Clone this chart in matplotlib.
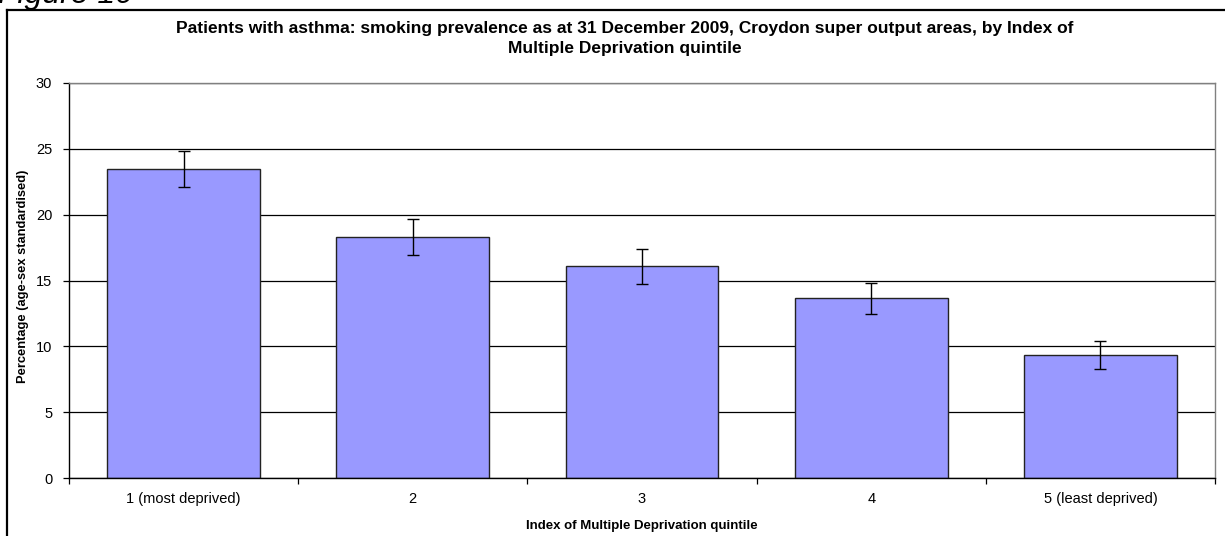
import matplotlib.pyplot as plt
from matplotlib.lines import Line2D

categories = ["1 (most deprived)", "2", "3", "4", "5 (least deprived)"]
values = [23.44, 18.28, 16.07, 13.64, 9.34]
errors = [1.37, 1.37, 1.33, 1.2, 1.07]
yticks = [0, 5, 10, 15, 20, 25, 30]

plt.rcParams['font.family'] = ['Liberation Sans', 'DejaVu Sans']

fig = plt.figure(figsize=(12.25, 5.36), dpi=100)
fig.patch.set_facecolor('white')

# outer frame (left and top edges visible)
W, H = 1225, 536
fig.add_artist(Line2D([7 / W, 7 / W], [0, 1 - 10 / H], transform=fig.transFigure,
                      color='black', lw=1.6))
fig.add_artist(Line2D([7 / W, 1], [1 - 10 / H, 1 - 10 / H], transform=fig.transFigure,
                      color='black', lw=1.6))

# page heading, cut off at the top
fig.text(-2 / W, 1 - 3 / H, "Figure 10", fontsize=23, style='italic',
         ha='left', va='baseline')

ax = fig.add_axes([69 / W, 1 - 478 / H, (1215 - 69) / W, (478 - 83) / H])
x = list(range(len(categories)))
ax.bar(x, values, width=0.667, color='#9999FF', edgecolor='#222222', linewidth=1.0,
       zorder=2)
ax.errorbar(x, values, yerr=errors, fmt='none', ecolor='black', elinewidth=1.0,
            capsize=4, capthick=1.0, zorder=3)

ax.set_xlim(-0.5, len(categories) - 0.5)
ax.set_ylim(0, 30)
ax.set_yticks(yticks)
ax.yaxis.grid(True, color='black', linewidth=0.9, zorder=0)
ax.set_axisbelow(True)

ax.set_xticks(x)
ax.set_xticklabels(categories, fontsize=10.5)
ax.tick_params(axis='x', which='major', length=0, pad=10)
ax.set_xticks([i + 0.5 for i in range(-1, len(categories))], minor=True)
ax.tick_params(axis='x', which='minor', length=4, direction='out', width=0.9)
ax.tick_params(axis='y', length=4, width=0.9, labelsize=10.5, pad=8)

for side in ['left', 'bottom']:
    ax.spines[side].set_color('black')
    ax.spines[side].set_linewidth(1.0)
for side in ['top', 'right']:
    ax.spines[side].set_color('#808080')
    ax.spines[side].set_linewidth(1.0)

ax.set_ylabel("Percentage (age-sex standardised)", fontsize=9.3, fontweight='bold')
ax.yaxis.set_label_coords(-40 / (1215 - 69), 0.51)
ax.set_xlabel("Index of Multiple Deprivation quintile", fontsize=9.5,
              fontweight='bold')
ax.xaxis.set_label_coords(0.5, -42 / (478 - 83))

fig.text(625 / W, 1 - 28 / H,
         "Patients with asthma: smoking prevalence as at 31 December 2009, Croydon super output areas, by Index of",
         fontsize=12.5, fontweight='bold', ha='center', va='center')
fig.text(625 / W, 1 - 48 / H, "Multiple Deprivation quintile",
         fontsize=12.5, fontweight='bold', ha='center', va='center')

fig.savefig("out.png", dpi=100, facecolor='white')
